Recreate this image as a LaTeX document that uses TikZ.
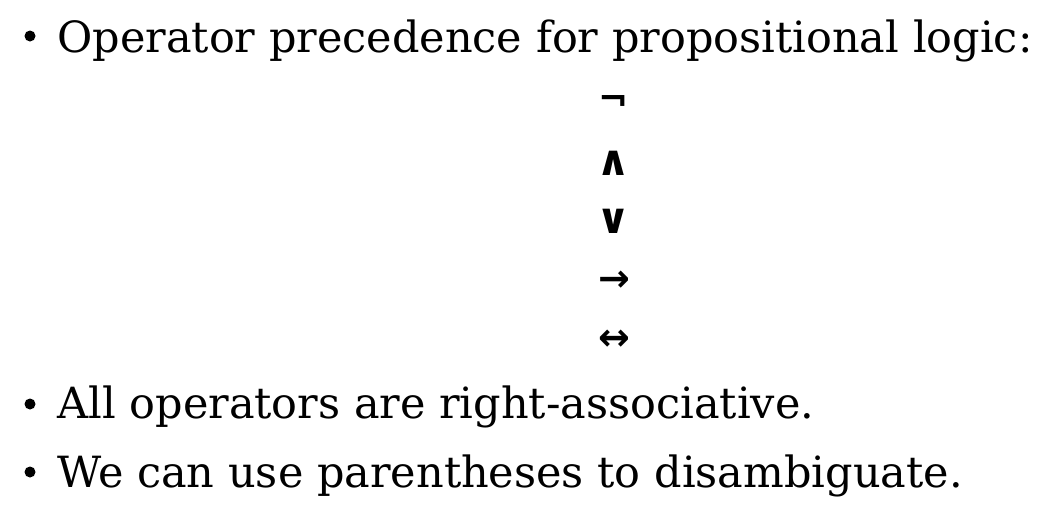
\documentclass[tikz,border=0pt]{standalone}
\usepackage{fontspec}
\setmainfont{DejaVu Serif}
\newfontfamily\symfont{DejaVu Sans}
\tikzset{
  itemtext/.style={anchor=base west, inner sep=0pt, font=\fontsize{21.5}{25}\selectfont},
  itemdot/.style={circle, fill, inner sep=0pt, minimum size=5.5pt},
  opsym/.style={inner sep=0pt, font=\symfont\bfseries\fontsize{18}{20}\selectfont},
  wedgesym/.style={inner sep=0pt, font=\symfont\bfseries\fontsize{21}{24}\selectfont},
  arrsym/.style={inner sep=0pt, font=\symfont\bfseries\fontsize{19}{22}\selectfont},
}
\begin{document}
\begin{tikzpicture}[x=0.5pt,y=-0.5pt]
\useasboundingbox (0,0) rectangle (1044,514);
\node[itemdot] (dot1) at (30,36){};
\node[itemtext] (line1) at (57,52) {Operator precedence for propositional logic:};
\node[opsym] (not) at (614,103.5) {¬};
\node[wedgesym] (and) at (614,163.5) {∧};
\node[wedgesym] (or) at (614,221.5) {∨};
\node[arrsym] (imp) at (614,281.5) {→};
\node[arrsym] (iff) at (614,340) {↔};
\node[itemdot] (dot2) at (30,404){};
\node[itemtext] (line2) at (57,418) {All operators are right-associative.};
\node[itemdot] (dot3) at (30,472){};
\node[itemtext] (line3) at (57,487) {We can use parentheses to disambiguate.};
\end{tikzpicture}
\end{document}
